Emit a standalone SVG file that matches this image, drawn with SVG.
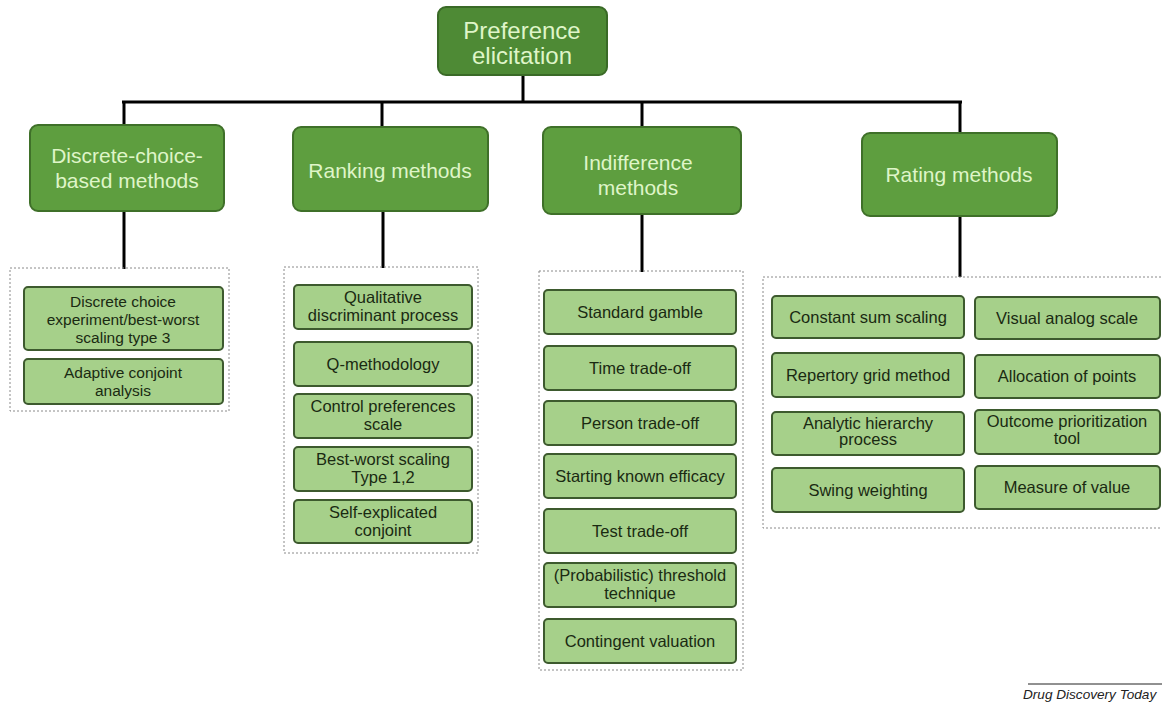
<svg xmlns="http://www.w3.org/2000/svg" width="1162" height="704" viewBox="0 0 1162 704">
<style>
.root{fill:#4e8a35;stroke:#3a6a27;stroke-width:2}
.cat{fill:#5e9e3f;stroke:#3f7029;stroke-width:2}
.ct{font-family:"Liberation Sans",Arial,sans-serif;fill:#dff5c8;text-anchor:middle}
.item{fill:#a6d08a;stroke:#3d5a2e;stroke-width:2}
.it{font-family:"Liberation Sans",Arial,sans-serif;font-size:16.5px;fill:#1a2a12;text-anchor:middle}
.grp{fill:none;stroke:#8a8a8a;stroke-width:1;stroke-dasharray:2,2}
.conn{stroke:#000;stroke-width:3;fill:none}
</style>
<rect width="1162" height="704" fill="#fff"/>
<g id="connectors">
<line class="conn" x1="523" y1="75" x2="523" y2="102"/>
<line class="conn" x1="122" y1="102" x2="962" y2="102"/>
<line class="conn" x1="124" y1="102" x2="124" y2="126"/>
<line class="conn" x1="382" y1="102" x2="382" y2="128"/>
<line class="conn" x1="642" y1="102" x2="642" y2="128"/>
<line class="conn" x1="960" y1="102" x2="960" y2="134"/>
<line class="conn" x1="124" y1="211" x2="124" y2="269"/>
<line class="conn" x1="383" y1="211" x2="383" y2="268"/>
<line class="conn" x1="642" y1="214" x2="642" y2="272"/>
<line class="conn" x1="960" y1="216" x2="960" y2="277"/>
</g>
<g id="root">
<rect class="root" x="438" y="7" width="169" height="68" rx="8"/>
<text class="ct" font-size="24" x="522" y="39">Preference</text>
<text class="ct" font-size="24" x="522" y="64">elicitation</text>
</g>
<g id="cat-discrete">
<rect class="cat" x="30" y="125" width="194" height="86" rx="8"/>
<text class="ct" font-size="21" x="127" y="163">Discrete-choice-</text>
<text class="ct" font-size="21" x="127" y="188">based methods</text>
</g>
<g id="cat-ranking">
<rect class="cat" x="293" y="127" width="195" height="84" rx="8"/>
<text class="ct" font-size="21" x="390" y="178">Ranking methods</text>
</g>
<g id="cat-indifference">
<rect class="cat" x="543" y="127" width="198" height="87" rx="8"/>
<text class="ct" font-size="21" x="638" y="170">Indifference</text>
<text class="ct" font-size="21" x="638" y="195">methods</text>
</g>
<g id="cat-rating">
<rect class="cat" x="862" y="133" width="195" height="83" rx="8"/>
<text class="ct" font-size="21" x="959" y="182">Rating methods</text>
</g>
<g id="group-discrete">
<rect class="grp" x="10" y="268" width="219" height="143"/>
<g id="dce"><rect class="item" x="24" y="287" width="199" height="63" rx="4"/>
<text class="it" style="font-size:15.5px" x="123" y="307">Discrete choice</text>
<text class="it" style="font-size:15.5px" x="123" y="325">experiment/best-worst</text>
<text class="it" style="font-size:15.5px" x="123" y="343">scaling type 3</text></g>
<g id="aca"><rect class="item" x="24" y="359" width="199" height="45" rx="4"/>
<text class="it" style="font-size:15.5px" x="123" y="378">Adaptive conjoint</text>
<text class="it" style="font-size:15.5px" x="123" y="396">analysis</text></g>
</g>
<g id="group-ranking">
<rect class="grp" x="284" y="267" width="194" height="286"/>
<g id="qdp"><rect class="item" x="294" y="285" width="178" height="44" rx="4"/>
<text class="it" x="383" y="303">Qualitative</text>
<text class="it" x="383" y="321">discriminant process</text></g>
<g id="qm"><rect class="item" x="294" y="342" width="178" height="44" rx="4"/>
<text class="it" x="383" y="370">Q-methodology</text></g>
<g id="cps"><rect class="item" x="294" y="394" width="178" height="44" rx="4"/>
<text class="it" x="383" y="412">Control preferences</text>
<text class="it" x="383" y="430">scale</text></g>
<g id="bws"><rect class="item" x="294" y="447" width="178" height="44" rx="4"/>
<text class="it" x="383" y="465">Best-worst scaling</text>
<text class="it" x="383" y="483">Type 1,2</text></g>
<g id="sec"><rect class="item" x="294" y="500" width="178" height="43" rx="4"/>
<text class="it" x="383" y="518">Self-explicated</text>
<text class="it" x="383" y="536">conjoint</text></g>
</g>
<g id="group-indifference">
<rect class="grp" x="539" y="271" width="204" height="399"/>
<g id="sg"><rect class="item" x="544" y="290" width="192" height="44" rx="4"/>
<text class="it" x="640" y="318">Standard gamble</text></g>
<g id="tto"><rect class="item" x="544" y="346" width="192" height="44" rx="4"/>
<text class="it" x="640" y="374">Time trade-off</text></g>
<g id="pto"><rect class="item" x="544" y="401" width="192" height="44" rx="4"/>
<text class="it" x="640" y="429">Person trade-off</text></g>
<g id="ske"><rect class="item" x="544" y="454" width="192" height="44" rx="4"/>
<text class="it" x="640" y="482">Starting known efficacy</text></g>
<g id="test"><rect class="item" x="544" y="509" width="192" height="44" rx="4"/>
<text class="it" x="640" y="537">Test trade-off</text></g>
<g id="ptt"><rect class="item" x="544" y="563" width="192" height="44" rx="4"/>
<text class="it" x="640" y="581">(Probabilistic) threshold</text>
<text class="it" x="640" y="599">technique</text></g>
<g id="cv"><rect class="item" x="544" y="619" width="192" height="44" rx="4"/>
<text class="it" x="640" y="647">Contingent valuation</text></g>
</g>
<g id="group-rating">
<rect class="grp" x="763" y="277" width="405" height="251"/>
<g id="css"><rect class="item" x="772" y="296" width="192" height="42" rx="4"/>
<text class="it" x="868" y="323">Constant sum scaling</text></g>
<g id="vas"><rect class="item" x="975" y="297" width="185" height="42" rx="4"/>
<text class="it" x="1067" y="324">Visual analog scale</text></g>
<g id="rgm"><rect class="item" x="772" y="353" width="192" height="44" rx="4"/>
<text class="it" x="868" y="381">Repertory grid method</text></g>
<g id="aop"><rect class="item" x="975" y="355" width="185" height="43" rx="4"/>
<text class="it" x="1067" y="382">Allocation of points</text></g>
<g id="ahp"><rect class="item" x="772" y="412" width="192" height="43" rx="4"/>
<text class="it" x="868" y="429">Analytic hierarchy</text>
<text class="it" x="868" y="445">process</text></g>
<g id="opt"><rect class="item" x="975" y="410" width="185" height="44" rx="4"/>
<text class="it" x="1067" y="427">Outcome prioritization</text>
<text class="it" x="1067" y="444">tool</text></g>
<g id="sw"><rect class="item" x="772" y="468" width="192" height="44" rx="4"/>
<text class="it" x="868" y="496">Swing weighting</text></g>
<g id="mov"><rect class="item" x="975" y="466" width="185" height="43" rx="4"/>
<text class="it" x="1067" y="493">Measure of value</text></g>
</g>
<g id="footer">
<line x1="1028" y1="684" x2="1162" y2="684" stroke="#222" stroke-width="1"/>
<text x="1023" y="699" font-family="Liberation Sans,Arial,sans-serif" font-size="13.6" font-style="italic" fill="#222">Drug Discovery Today</text>
</g>
</svg>
